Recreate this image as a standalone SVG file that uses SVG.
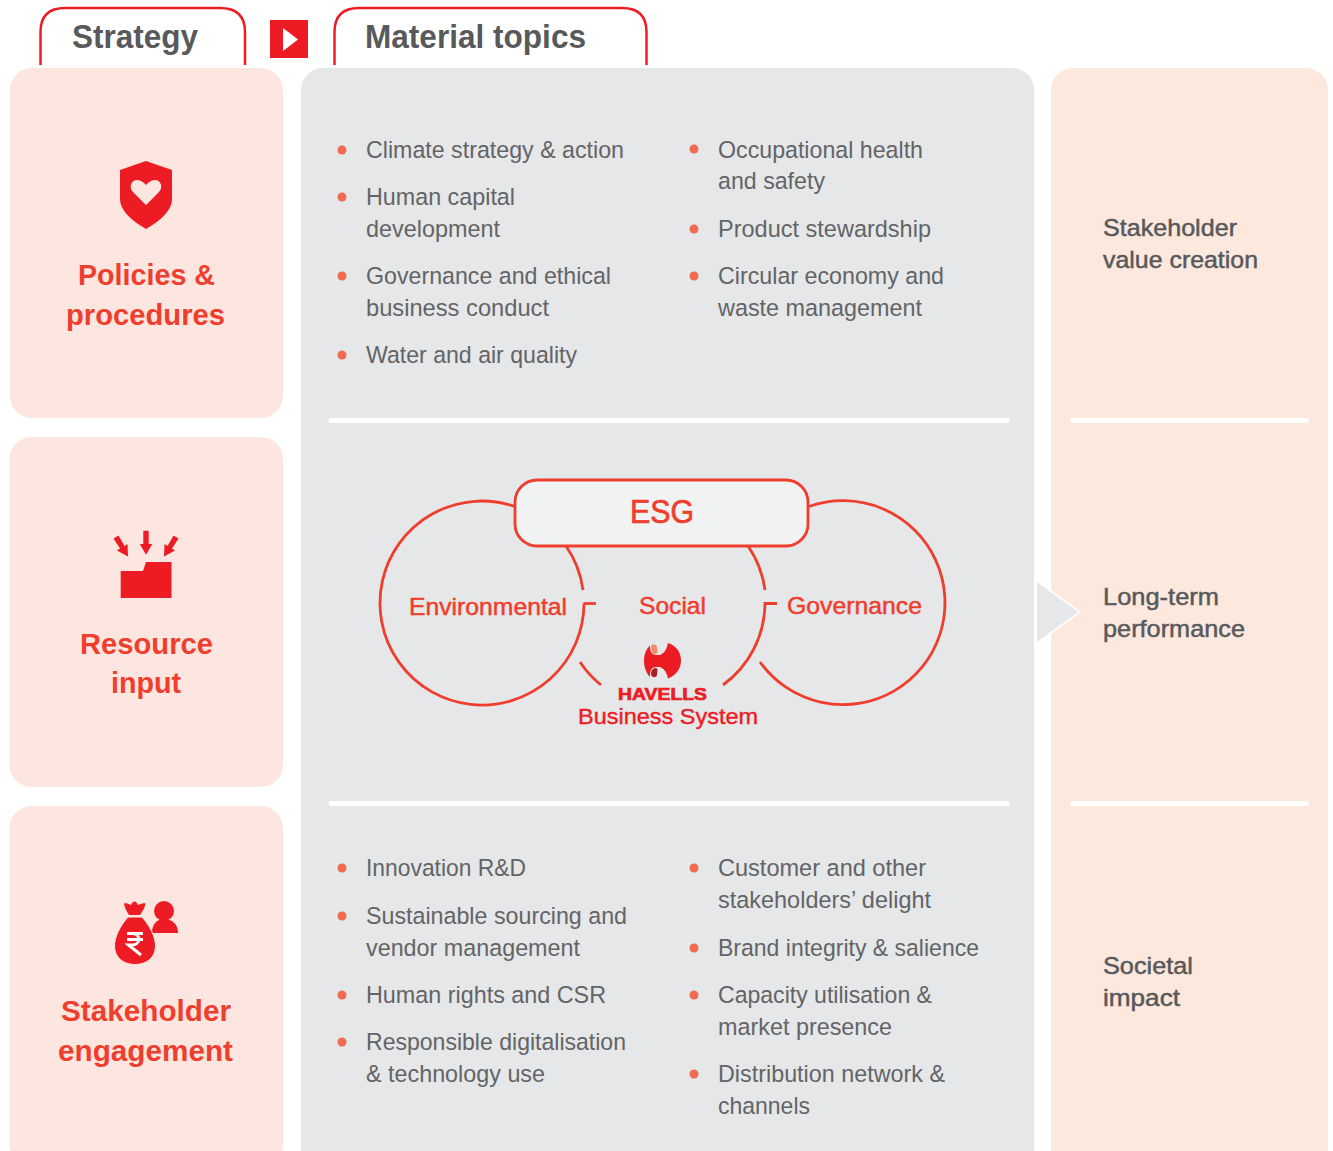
<svg xmlns="http://www.w3.org/2000/svg" width="1333" height="1151" viewBox="0 0 1333 1151">
<style>
text{font-family:"Liberation Sans",Arial,sans-serif;}
.b{font-size:24.5px;fill:#636466;}
.r{font-size:24.5px;fill:#58595b;stroke:#58595b;stroke-width:.5px;}
.h{font-size:33px;font-weight:700;fill:#58595b;}
.t{font-size:30px;font-weight:700;fill:#ef3e2d;}
.e{font-size:24.5px;fill:#ef3e2d;stroke:#ef3e2d;stroke-width:.5px;}
.tab{fill:none;stroke:#ed1c24;stroke-width:2.5;}
.arc{fill:none;stroke:#ef3e2d;stroke-width:2.8;}
.left{fill:#fde6df;}
.d{fill:#f26a4f;}
.div{stroke:#fff;stroke-width:5;stroke-linecap:round;}
.ic{fill:#ed1c24;}
</style>
<g id="tab-strategy">
<path class="tab" d="M40.5 65V32Q40.500 8 65 8H220Q245 8 245 32V65"/>
<text class="h" x="72" y="48" textLength="126" lengthAdjust="spacingAndGlyphs">Strategy</text>
</g>
<g id="tab-arrow">
<rect class="ic" x="270" y="20" width="38" height="38"/>
<path fill="#fff" d="M283 28L298 39.500L283 51Z"/>
</g>
<g id="tab-material">
<path class="tab" d="M334.500 65V32Q334.500 8 359 8H622Q646.500 8 646.500 32V65"/>
<text class="h" x="365" y="48" textLength="221" lengthAdjust="spacingAndGlyphs">Material topics</text>
</g>

<g id="policies">
<rect class="left" x="10" y="68" width="273" height="350" rx="22"/>
<path class="ic" d="M146 161L172 170V199Q172 214 146 229Q120 214 120 199V170Z"/>
<path fill="#fde6df" d="M146 205L133 192C127 185 134 177 141 181Q144 182.500 146 185Q148 182.500 151 181C158 177 165 185 159 192Z"/>
<text class="t" x="78" y="285" textLength="137" lengthAdjust="spacingAndGlyphs">Policies &amp;</text>
<text class="t" x="66" y="325" textLength="159" lengthAdjust="spacingAndGlyphs">procedures</text>
</g>
<g id="resource">
<rect class="left" x="9.500" y="437" width="273.500" height="350" rx="22"/>
<path class="ic" d="M120.700 571H143L146 562H171.500V598H120.700Z"/>
<path class="ic" d="M143.300 530.700H148.700V544H152.300L146 554.700L139.800 544H143.300Z"/>
<path class="ic" d="M113.500 538.500L118.500 535.500L124.500 546L127.500 544L128 556.500L117 550.500L120 548.500Z"/>
<path class="ic" d="M178.500 538.500L173.500 535.500L167.500 546L164.500 544L164 556.500L175 550.500L172 548.500Z"/>
<text class="t" x="80" y="654" textLength="133" lengthAdjust="spacingAndGlyphs">Resource</text>
<text class="t" x="111" y="693" textLength="70" lengthAdjust="spacingAndGlyphs">input</text>
</g>
<g id="stakeholder">
<rect class="left" x="9.500" y="806" width="273.500" height="360" rx="22"/>
<circle class="ic" cx="164" cy="911" r="10"/>
<path class="ic" d="M152 933C152 924 157 919 164 919C172 919 178 924 178 933Z"/>
<path class="ic" d="M124 903.500C127 902.500 129 904 131 905C132 903 133 901.500 134.500 901.500C136 901.500 137 903 138 905C140 904 143 902.500 145.500 903.500C145 908 142 912 140 915H129C127 912 124.500 908 124 903.500Z"/>
<path class="ic" stroke="#fde6df" stroke-width="1" d="M128 917H142C150 926 155.500 937 155.500 946C155.500 958 146 964.500 135 964.500C124 964.500 114.500 958 114.500 946C114.500 937 120 926 128 917Z"/>
<path fill="none" stroke="#fff" stroke-width="3" d="M127 933.500H143M127 939.500H143M127 933.500H132C141 933.500 141 945 132 945H128.500L141 955"/>
<text class="t" x="61" y="1021" textLength="170" lengthAdjust="spacingAndGlyphs">Stakeholder</text>
<text class="t" x="58" y="1061" textLength="175" lengthAdjust="spacingAndGlyphs">engagement</text>
</g>

<g id="material-topics">
<rect fill="#e6e7e9" x="301" y="68" width="733" height="1110" rx="22"/>
<line class="div" x1="331" y1="420.500" x2="1007" y2="420.500"/>
<line class="div" x1="331" y1="803.500" x2="1007" y2="803.500"/>
</g>
<g id="topics-environment">
<circle class="d" cx="342" cy="150" r="4.500"/><circle class="d" cx="342" cy="197" r="4.500"/><circle class="d" cx="342" cy="276" r="4.500"/><circle class="d" cx="342" cy="355" r="4.500"/>
<circle class="d" cx="694" cy="149" r="4.500"/><circle class="d" cx="694" cy="229" r="4.500"/><circle class="d" cx="694" cy="276" r="4.500"/>
<text class="b" x="366" y="158" textLength="258" lengthAdjust="spacingAndGlyphs">Climate strategy &amp; action</text>
<text class="b" x="366" y="205" textLength="149" lengthAdjust="spacingAndGlyphs">Human capital</text>
<text class="b" x="366" y="237" textLength="134" lengthAdjust="spacingAndGlyphs">development</text>
<text class="b" x="366" y="284" textLength="245" lengthAdjust="spacingAndGlyphs">Governance and ethical</text>
<text class="b" x="366" y="316" textLength="183" lengthAdjust="spacingAndGlyphs">business conduct</text>
<text class="b" x="366" y="363" textLength="211" lengthAdjust="spacingAndGlyphs">Water and air quality</text>
<text class="b" x="718" y="158" textLength="205" lengthAdjust="spacingAndGlyphs">Occupational health</text>
<text class="b" x="718" y="189" textLength="107" lengthAdjust="spacingAndGlyphs">and safety</text>
<text class="b" x="718" y="237" textLength="213" lengthAdjust="spacingAndGlyphs">Product stewardship</text>
<text class="b" x="718" y="284" textLength="226" lengthAdjust="spacingAndGlyphs">Circular economy and</text>
<text class="b" x="718" y="316" textLength="204" lengthAdjust="spacingAndGlyphs">waste management</text>
</g>
<g id="esg">
<path class="arc" d="M515 506.500A102 102 0 1 0 584 603.500"/>
<path class="arc" d="M566 546A102 102 0 0 1 583 590"/>
<path class="arc" d="M596 603.500H583.500"/>
<path class="arc" d="M580 662A102 102 0 0 0 601 685"/>
<path class="arc" d="M748 546A102 102 0 0 1 765 590"/>
<path class="arc" d="M777 603.500H765V603.500A102 102 0 0 1 723 685"/>
<path class="arc" d="M809 506.500A102 102 0 1 1 760 662"/>
<rect x="515" y="480" width="293" height="66" rx="22" fill="#f1f2f2" stroke="#ef3e2d" stroke-width="2.800"/>
<text x="630" y="523" font-size="33" fill="#ef3e2d" stroke="#ef3e2d" stroke-width=".7" textLength="64" lengthAdjust="spacingAndGlyphs">ESG</text>
<text class="e" x="409" y="615" textLength="158" lengthAdjust="spacingAndGlyphs">Environmental</text>
<text class="e" x="639" y="614" textLength="67" lengthAdjust="spacingAndGlyphs">Social</text>
<text class="e" x="787" y="614" textLength="135" lengthAdjust="spacingAndGlyphs">Governance</text>
<path class="ic" d="M668 643C677 646 681 653 681 660.500C681 668 677 675 668 678.500C667 674 665 669 660 667H657C651 667 650 670 650 677C646 673 644 667 644 660.500C644 654 646 649 650 645.500C650 651 651 655 657 655H660C665 653 667 648 668 643Z"/>
<path fill="#f58a6f" d="M651 646C653 644 656 644 657 647L657.500 653L655 654C652 654 651 651 651 646Z"/>
<path fill="#a81f24" d="M651 675C651 671 652 668 656 668L657.500 669L657 675C656 678 653 678 651 675Z"/>
<text x="618" y="700" font-size="17" font-weight="700" fill="#ed1c24" stroke="#ed1c24" stroke-width=".7" textLength="89" lengthAdjust="spacingAndGlyphs">HAVELLS</text>
<text x="578" y="724" font-size="22.500" fill="#ed1c24" stroke="#ed1c24" stroke-width=".4" textLength="180" lengthAdjust="spacingAndGlyphs">Business System</text>
</g>
<g id="topics-growth">
<circle class="d" cx="342" cy="868" r="4.500"/><circle class="d" cx="342" cy="916" r="4.500"/><circle class="d" cx="342" cy="995" r="4.500"/><circle class="d" cx="342" cy="1042" r="4.500"/>
<circle class="d" cx="694" cy="868" r="4.500"/><circle class="d" cx="694" cy="948" r="4.500"/><circle class="d" cx="694" cy="995" r="4.500"/><circle class="d" cx="694" cy="1074" r="4.500"/>
<text class="b" x="366" y="876" textLength="160" lengthAdjust="spacingAndGlyphs">Innovation R&amp;D</text>
<text class="b" x="366" y="924" textLength="261" lengthAdjust="spacingAndGlyphs">Sustainable sourcing and</text>
<text class="b" x="366" y="956" textLength="214" lengthAdjust="spacingAndGlyphs">vendor management</text>
<text class="b" x="366" y="1003" textLength="240" lengthAdjust="spacingAndGlyphs">Human rights and CSR</text>
<text class="b" x="366" y="1050" textLength="260" lengthAdjust="spacingAndGlyphs">Responsible digitalisation</text>
<text class="b" x="366" y="1082" textLength="179" lengthAdjust="spacingAndGlyphs">&amp; technology use</text>
<text class="b" x="718" y="876" textLength="208" lengthAdjust="spacingAndGlyphs">Customer and other</text>
<text class="b" x="718" y="908" textLength="213" lengthAdjust="spacingAndGlyphs">stakeholders’ delight</text>
<text class="b" x="718" y="956" textLength="261" lengthAdjust="spacingAndGlyphs">Brand integrity &amp; salience</text>
<text class="b" x="718" y="1003" textLength="214" lengthAdjust="spacingAndGlyphs">Capacity utilisation &amp;</text>
<text class="b" x="718" y="1035" textLength="174" lengthAdjust="spacingAndGlyphs">market presence</text>
<text class="b" x="718" y="1082" textLength="227" lengthAdjust="spacingAndGlyphs">Distribution network &amp;</text>
<text class="b" x="718" y="1114" textLength="92" lengthAdjust="spacingAndGlyphs">channels</text>
</g>

<g id="outcomes">
<rect fill="#fde8de" x="1051" y="68" width="277" height="1110" rx="22"/>
<line class="div" x1="1072.500" y1="420.500" x2="1306.500" y2="420.500"/>
<line class="div" x1="1072.500" y1="803.500" x2="1306.500" y2="803.500"/>
<text class="r" x="1103" y="236" textLength="134" lengthAdjust="spacingAndGlyphs">Stakeholder</text>
<text class="r" x="1103" y="268" textLength="155" lengthAdjust="spacingAndGlyphs">value creation</text>
<text class="r" x="1103" y="605" textLength="116" lengthAdjust="spacingAndGlyphs">Long-term</text>
<text class="r" x="1103" y="637" textLength="142" lengthAdjust="spacingAndGlyphs">performance</text>
<text class="r" x="1103" y="974" textLength="90" lengthAdjust="spacingAndGlyphs">Societal</text>
<text class="r" x="1103" y="1006" textLength="77" lengthAdjust="spacingAndGlyphs">impact</text>
</g>
<g id="connectors">
<path fill="#e6e7e9" stroke="#fff" stroke-width="2" stroke-linejoin="round" d="M1037 581L1080 612L1037 643" />
</g>
</svg>
